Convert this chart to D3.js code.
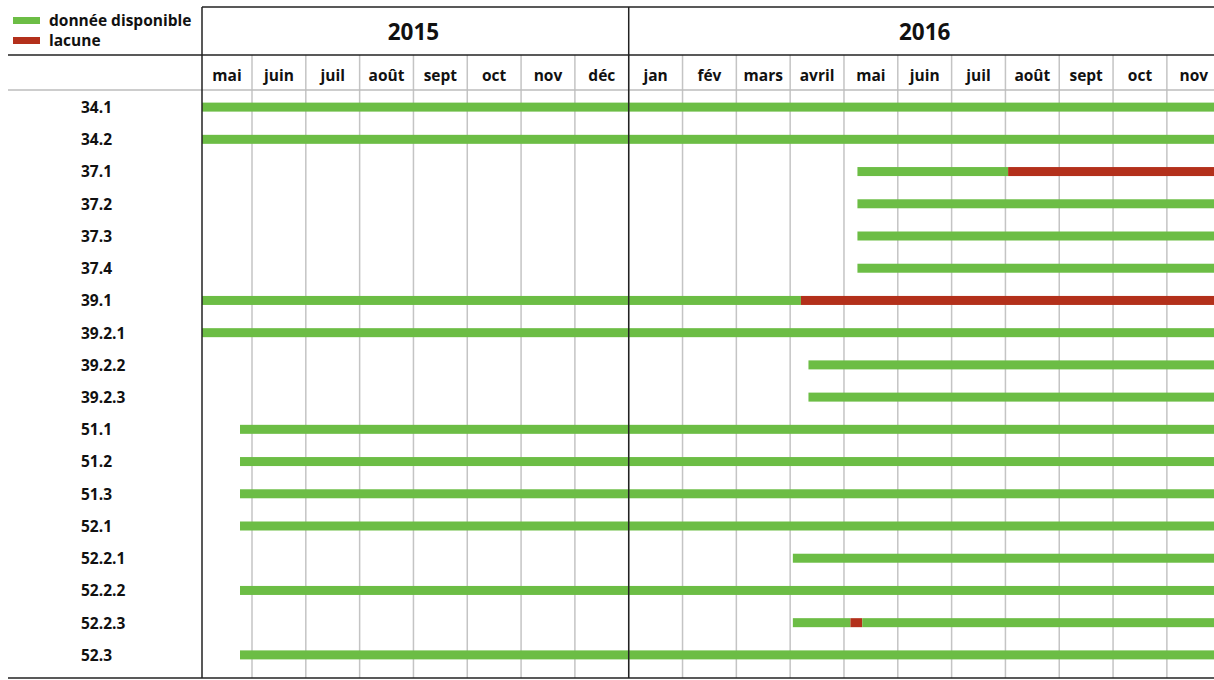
<!DOCTYPE html>
<html>
<head>
<meta charset="utf-8">
<script src="https://cdn.jsdelivr.net/npm/d3@7"></script>
<style>
  body { margin: 0; background: #fff; }
  svg text { font-family: "Open Sans", sans-serif; font-weight: bold; fill: #111; }
</style>
</head>
<body>
<svg id="chart" width="1214" height="680"></svg>
<script>
// month columns (index 0 = mai 2015)
let months = ["mai", "juin", "juil", "août", "sept", "oct", "nov", "déc",
              "jan", "fév", "mars", "avril", "mai", "juin", "juil", "août", "sept", "oct", "nov"];
let years = ["2015", "2016"];
let yearFrom = [0, 8];
let yearTo = [8, 19];

let stations = ["34.1", "34.2", "37.1", "37.2", "37.3", "37.4", "39.1", "39.2.1", "39.2.2",
                "39.2.3", "51.1", "51.2", "51.3", "52.1", "52.2.1", "52.2.2", "52.2.3", "52.3"];
// month index where data starts for each station
let dataStart = [0, 0, 12.25, 12.25, 12.25, 12.25, 0, 0, 11.34,
                 11.34, 0.76, 0.76, 0.76, 0.76, 11.05, 0.76, 11.05, 0.76];
// gaps (lacunes), null = none
let gapStart = [null, null, 15.05, null, null, null, 11.2, null, null,
                null, null, null, null, null, null, null, 12.12, null];
let gapEnd = [null, null, 19, null, null, null, 19, null, null,
              null, null, null, null, null, null, null, 12.34, null];
let periodEnd = 19;

let legendKeys = ["donnée disponible", "lacune"];
let color = d3.scaleOrdinal().domain(["ok", "gap"]).range(["#6cbd45", "#b3301b"]);

let svg = d3.select("#chart");

let x = d3.scaleLinear().domain([0, 1, 19]).range([202, 252, 1220.7]);
let y = d3.scaleBand().domain(stations).range([91, 671]);

let topLine = 7, headLine = 55, monthLine = 90, bottomLine = 678, rightEdge = 1214;

// build segments
let segments = [];
stations.forEach((s, i) => {
    let start = dataStart[i];
    if (gapStart[i] === null) {
        segments.push({station: s, from: start, to: periodEnd, key: "ok"});
    } else {
        segments.push({station: s, from: start, to: gapStart[i], key: "ok"});
        segments.push({station: s, from: gapStart[i], to: gapEnd[i], key: "gap"});
        if (gapEnd[i] < periodEnd) {
            segments.push({station: s, from: gapEnd[i], to: periodEnd, key: "ok"});
        }
    }
});

// light month grid
svg.append("g")
    .selectAll("line")
    .data(d3.range(1, months.length))
    .enter().append("line")
    .attr("x1", d => x(d)).attr("x2", d => x(d))
    .attr("y1", headLine).attr("y2", bottomLine)
    .attr("stroke", "#c4c4c4")
    .attr("stroke-width", 1.5);

svg.append("line")
    .attr("x1", 8).attr("x2", rightEdge)
    .attr("y1", monthLine).attr("y2", monthLine)
    .attr("stroke", "#bdbdbd")
    .attr("stroke-width", 1.5);

// bars
let barH = 9;
svg.append("g")
    .selectAll("rect")
    .data(segments)
    .enter().append("rect")
    .attr("x", d => x(d.from))
    .attr("y", d => y(d.station) + y.bandwidth() / 2 - barH / 2)
    .attr("width", d => x(d.to) - x(d.from))
    .attr("height", barH)
    .attr("fill", d => color(d.key));

// frame lines
let frame = svg.append("g").attr("stroke", "#222").attr("stroke-width", 1.5);
frame.append("line").attr("x1", x(0)).attr("x2", rightEdge).attr("y1", topLine).attr("y2", topLine);
frame.append("line").attr("x1", 8).attr("x2", rightEdge).attr("y1", headLine).attr("y2", headLine);
frame.append("line").attr("x1", 8).attr("x2", rightEdge).attr("y1", bottomLine).attr("y2", bottomLine);
frame.selectAll(".ydiv")
    .data(yearFrom)
    .enter().append("line")
    .attr("x1", d => x(d)).attr("x2", d => x(d))
    .attr("y1", topLine).attr("y2", bottomLine);

// year labels
svg.append("g")
    .selectAll("text")
    .data(years)
    .enter().append("text")
    .attr("x", (d, i) => x((yearFrom[i] + yearTo[i]) / 2))
    .attr("y", 39.5)
    .attr("text-anchor", "middle")
    .attr("font-size", 22.5)
    .text(d => d);

// month labels
svg.append("g")
    .selectAll("text")
    .data(months)
    .enter().append("text")
    .attr("x", (d, i) => (x(i) + x(i + 1)) / 2)
    .attr("y", 81)
    .attr("text-anchor", "middle")
    .attr("font-size", 15.5)
    .text(d => d);

// station labels
svg.append("g")
    .selectAll("text")
    .data(stations)
    .enter().append("text")
    .attr("x", 81)
    .attr("y", d => y(d) + y.bandwidth() / 2)
    .attr("dy", "0.38em")
    .attr("font-size", 15.5)
    .text(d => d);

// legend
let legend = svg.append("g")
    .selectAll("g")
    .data(legendKeys)
    .enter().append("g")
    .attr("transform", (d, i) => "translate(13," + (17 + i * 20) + ")");

legend.append("rect")
    .attr("width", 27)
    .attr("height", 7)
    .attr("fill", (d, i) => color(i === 0 ? "ok" : "gap"));

legend.append("text")
    .attr("x", 36)
    .attr("y", 4)
    .attr("dy", "0.35em")
    .attr("font-size", 15.5)
    .text(d => d);
</script>
</body>
</html>
